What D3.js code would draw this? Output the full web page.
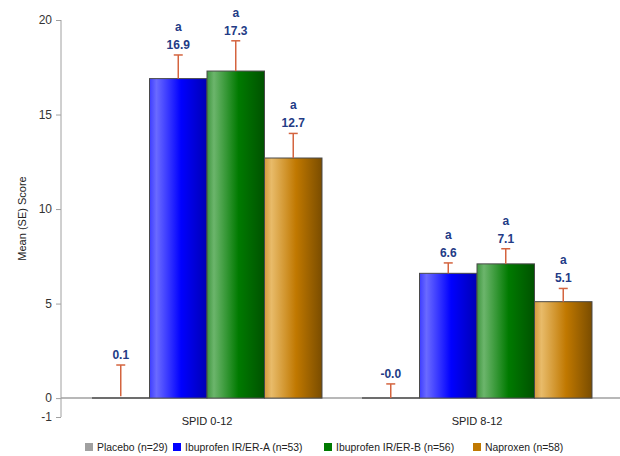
<!DOCTYPE html>
<html>
<head>
<meta charset="utf-8">
<script src="https://cdn.jsdelivr.net/npm/d3@7/dist/d3.min.js"></script>
<style>
  html, body { margin: 0; padding: 0; background: #fff; }
  svg { display: block; font-family: "Liberation Sans", Arial, sans-serif; }
</style>
</head>
<body>
<svg id="chart" width="620" height="456"></svg>
<script>
// Time windows on the x axis
const categories = ["SPID 0-12", "SPID 8-12"];
// Treatment groups (legend order)
const groups = ["Placebo (n=29)", "Ibuprofen IR/ER-A (n=53)", "Ibuprofen IR/ER-B (n=56)", "Naproxen (n=58)"];
// Mean score per group, one array per time window
const meanSpid012 = [0.1, 16.9, 17.3, 12.7];
const meanSpid812 = [-0.0, 6.6, 7.1, 5.1];
// Standard error per group
const seSpid012 = [1.65, 1.25, 1.6, 1.3];
const seSpid812 = [0.75, 0.55, 0.8, 0.7];
// Significance markers shown above the bars
const sigSpid012 = ["", "a", "a", "a"];
const sigSpid812 = ["", "a", "a", "a"];
// Y axis ticks
const yTicks = [-1, 0, 5, 10, 15, 20];

const means = [meanSpid012, meanSpid812];
const errors = [seSpid012, seSpid812];
const sigs = [sigSpid012, sigSpid812];

const svg = d3.select("#chart");

const y = d3.scaleLinear().domain([-1, 20]).range([417, 20]);
const x0 = d3.scaleBand().domain(categories).range([72, 612]).padding(0);
const x1 = d3.scaleBand().domain(groups).range([0, x0.bandwidth()]).paddingInner(0).paddingOuter(0.348);

// Bar shading gradients
const palette = [
  { id: "g0", stops: ["#b0b0b0", "#cfcfcf", "#999999", "#707070"], swatch: "#a0a0a0" },
  { id: "g1", stops: ["#3c3cff", "#6a6aff", "#0000ff", "#0000b4"], swatch: "#0000ff" },
  { id: "g2", stops: ["#3f963f", "#6cb56c", "#007a00", "#005200"], swatch: "#007a00" },
  { id: "g3", stops: ["#d49a3c", "#e8bb6a", "#c07800", "#7a4d00"], swatch: "#c07800" }
];
const defs = svg.append("defs");
palette.forEach(p => {
  const g = defs.append("linearGradient").attr("id", p.id)
    .attr("x1", "0%").attr("x2", "100%").attr("y1", "0%").attr("y2", "0%");
  [[0, 0], [0.12, 1], [0.55, 2], [1, 3]].forEach(([o, i]) =>
    g.append("stop").attr("offset", o).attr("stop-color", p.stops[i]));
});

// Y axis
const yAxis = d3.axisLeft(y).tickValues(yTicks).tickSize(5).tickPadding(4).tickFormat(d => String(d));
const gy = svg.append("g").attr("transform", "translate(61,0)").call(yAxis);
gy.select(".domain").attr("stroke", "#a0a0a0").attr("d", `M0,${y(20)}V${y(-1)}`);
gy.selectAll(".tick line").attr("stroke", "#a0a0a0");
gy.selectAll(".tick text").attr("fill", "#333").attr("font-size", 12);

svg.append("text")
  .attr("transform", `translate(26,${y(9.5)}) rotate(-90)`)
  .attr("text-anchor", "middle")
  .attr("font-size", 11)
  .attr("fill", "#222")
  .text("Mean (SE) Score");

// Zero reference line
svg.append("line")
  .attr("x1", 61).attr("x2", 620)
  .attr("y1", y(0)).attr("y2", y(0))
  .attr("stroke", "#a0a0a0").attr("stroke-width", 1.5);

// Bars, error bars and labels
categories.forEach((cat, ci) => {
  const g = svg.append("g").attr("transform", `translate(${x0(cat)},0)`);
  groups.forEach((grp, gi) => {
    const v = means[ci][gi];
    const se = errors[ci][gi];
    const bx = x1(grp);
    const bw = x1.bandwidth();
    const top = y(Math.max(v, 0));
    const h = Math.abs(y(v) - y(0));
    const cx = bx + bw / 2;

    if (h >= 2) {
      g.append("rect")
        .attr("x", bx).attr("y", top)
        .attr("width", bw).attr("height", h)
        .attr("fill", `url(#${palette[gi].id})`)
        .attr("stroke", "#4a4a4a").attr("stroke-width", 1);
    } else {
      g.append("line")
        .attr("x1", bx).attr("x2", bx + bw)
        .attr("y1", y(0)).attr("y2", y(0))
        .attr("stroke", "#555").attr("stroke-width", 1.5);
    }

    const eTop = y(v + se);
    const eBase = y(v);
    g.append("line")
      .attr("x1", cx).attr("x2", cx)
      .attr("y1", eBase).attr("y2", eTop)
      .attr("stroke", "#d4643f").attr("stroke-width", 1.5);
    g.append("line")
      .attr("x1", cx - 4.5).attr("x2", cx + 4.5)
      .attr("y1", eTop).attr("y2", eTop)
      .attr("stroke", "#d4643f").attr("stroke-width", 1.5);

    const label = (Object.is(v, -0) || (v <= 0 && v > -0.05)) && ci === 1 ? "-0.0" : d3.format(".1f")(v);
    g.append("text")
      .attr("x", cx).attr("y", eTop - 6)
      .attr("text-anchor", "middle")
      .attr("font-size", 12).attr("font-weight", "bold")
      .attr("fill", "#233b86")
      .text(label);
    if (sigs[ci][gi]) {
      g.append("text")
        .attr("x", cx).attr("y", eTop - 24)
        .attr("text-anchor", "middle")
        .attr("font-size", 12).attr("font-weight", "bold")
        .attr("fill", "#233b86")
        .text(sigs[ci][gi]);
    }
  });
  svg.append("text")
    .attr("x", x0(cat) + x0.bandwidth() / 2).attr("y", 425)
    .attr("text-anchor", "middle")
    .attr("font-size", 11).attr("fill", "#222")
    .text(cat);
});

// Legend
const legendX = [85, 173, 324, 473];
const legend = svg.append("g");
groups.forEach((grp, gi) => {
  legend.append("rect")
    .attr("x", legendX[gi]).attr("y", 443)
    .attr("width", 8).attr("height", 8)
    .attr("fill", palette[gi].swatch);
  legend.append("text")
    .attr("x", legendX[gi] + 12).attr("y", 451)
    .attr("font-size", 10.4).attr("fill", "#222")
    .text(grp);
});
</script>
</body>
</html>
